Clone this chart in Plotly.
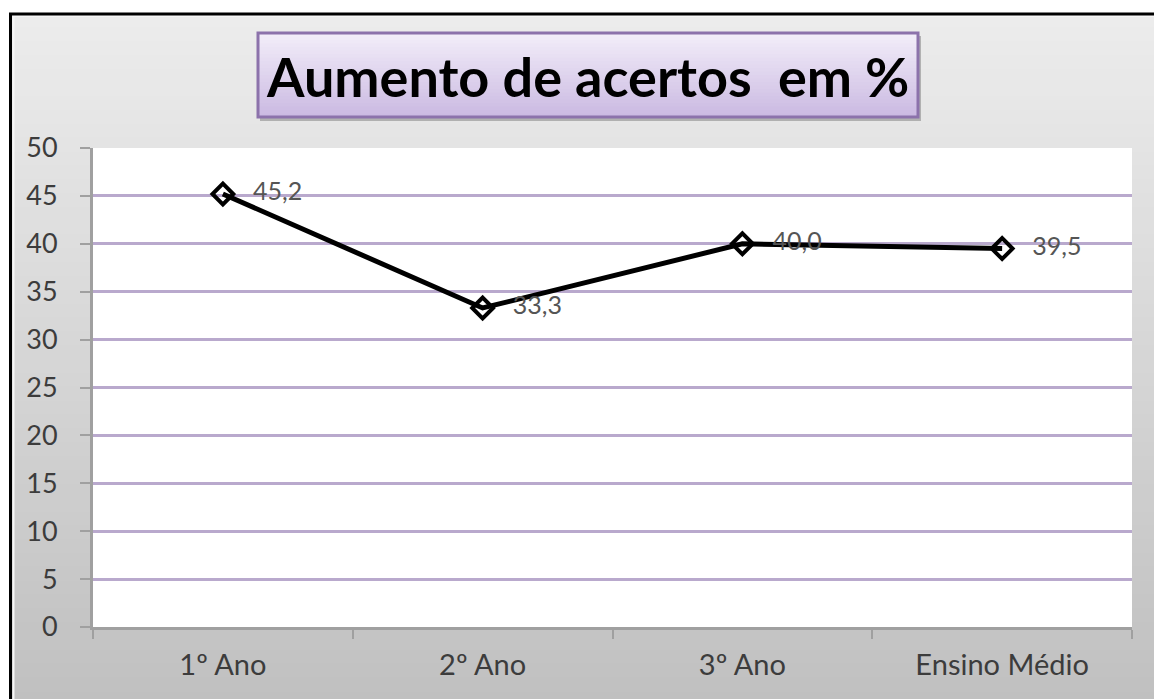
import plotly.graph_objects as go

categories = ["1º Ano", "2º Ano", "3º Ano", "Ensino Médio"]
values = [45.2, 33.3, 40.0, 39.5]
y_ticks = [0, 5, 10, 15, 20, 25, 30, 35, 40, 45, 50]
title_text = "Aumento de acertos  em %"

OFF = 0  # body margin removed via post_script
W, H = 1154 - OFF, 699 - OFF
PX0, PX1, PY0, PY1 = 93, 1132, 148, 627  # plot area in page pixels
L, R, T, B = PX0 - OFF, W - (PX1 - OFF), PY0 - OFF, H - (PY1 - OFF)
PW, PH = W - L - R, H - T - B


def px_x(px):
    return (px - OFF - L) / PW


def px_y(py):
    return (H - B - (py - OFF)) / PH


def lerp(c1, c2, t):
    return "rgb(%d,%d,%d)" % tuple(round(a + (b - a) * t) for a, b in zip(c1, c2))


shapes = []
# background gradient
n = 50
y0, y1 = 13, 705
for i in range(n):
    ya = y0 + (y1 - y0) * i / n
    yb = y0 + (y1 - y0) * (i + 1) / n + 1
    shapes.append(dict(type="rect", xref="paper", yref="paper", layer="below",
                       x0=px_x(10), x1=px_x(1160), y0=px_y(yb), y1=px_y(ya),
                       line=dict(width=0), fillcolor=lerp((236, 236, 236), (192, 192, 192), i / (n - 1))))
# plot area white
shapes.append(dict(type="rect", xref="paper", yref="paper", layer="below",
                   x0=0, x1=1, y0=0, y1=1, line=dict(width=0), fillcolor="white"))
# title box shadow
bx0, bx1, by0, by1 = 258, 918, 33, 117
shapes.append(dict(type="rect", xref="paper", yref="paper", layer="below",
                   x0=px_x(bx0 + 2), x1=px_x(bx1 + 3), y0=px_y(by1 + 4), y1=px_y(by0 + 3),
                   line=dict(width=0), fillcolor="rgba(110,110,110,0.45)"))
m = 24
for i in range(m):
    ya = by0 + (by1 - by0) * i / m
    yb = by0 + (by1 - by0) * (i + 1) / m + 0.6
    shapes.append(dict(type="rect", xref="paper", yref="paper", layer="below",
                       x0=px_x(bx0), x1=px_x(bx1), y0=px_y(yb), y1=px_y(ya),
                       line=dict(width=0), fillcolor=lerp((242, 237, 249), (203, 186, 226), i / (m - 1))))
shapes.append(dict(type="rect", xref="paper", yref="paper", layer="below",
                   x0=px_x(bx0), x1=px_x(bx1), y0=px_y(by1), y1=px_y(by0),
                   line=dict(width=3, color="#8c72ab"), fillcolor="rgba(0,0,0,0)"))
# inner light border + outer black border
shapes.append(dict(type="rect", xref="paper", yref="paper", layer="below",
                   x0=px_x(13.5), x1=px_x(1170), y0=px_y(710), y1=px_y(16),
                   line=dict(width=2, color="#f6f6f6"), fillcolor="rgba(0,0,0,0)"))
shapes.append(dict(type="rect", xref="paper", yref="paper", layer="above",
                   x0=px_x(10.5), x1=px_x(1170), y0=px_y(710), y1=px_y(14),
                   line=dict(width=3, color="black"), fillcolor="rgba(0,0,0,0)"))

fig = go.Figure()
fig.add_trace(go.Scatter(
    x=categories, y=values, mode="lines+markers+text",
    line=dict(color="black", width=5),
    marker=dict(symbol="diamond-open", size=16, color="black", line=dict(width=4, color="black")),
    texttemplate="\u00a0\u00a0\u00a0%{y:.1f}", textposition="middle right",
    textfont=dict(family="Lato", size=25, color="#555555"),
    cliponaxis=False, showlegend=False,
))

fig.add_annotation(text="<b>" + title_text + "</b>", xref="paper", yref="paper",
                   x=px_x((bx0 + bx1) / 2 - 1), y=px_y((by0 + by1) / 2 + 1), showarrow=False,
                   font=dict(family="Lato", size=54, color="black"),
                   xanchor="center", yanchor="middle")

fig.update_layout(
    width=W, height=H,
    margin=dict(l=L, r=R, t=T, b=B),
    paper_bgcolor="white", plot_bgcolor="white",
    separators=",.",
    shapes=shapes,
    xaxis=dict(
        type="category", tickson="boundaries", ticks="outside", ticklen=9,
        tickcolor="#a0a0a0", tickwidth=2, showline=True, linecolor="#a0a0a0", linewidth=3,
        showgrid=False, tickfont=dict(family="Lato", size=29, color="#3c3c3c"),
        range=[-0.5, 3.5], ticklabelstandoff=10,
    ),
    yaxis=dict(
        range=[0, 50], tickvals=y_ticks, ticks="outside", ticklen=10,
        tickcolor="#a0a0a0", tickwidth=2, showline=True, linecolor="#a0a0a0", linewidth=3,
        showgrid=True, gridcolor="#b9a9cd", gridwidth=3, zeroline=False,
        tickfont=dict(family="Lato", size=27, color="#3c3c3c"),
        ticklabelstandoff=17,
    ),
)

fig.write_html(
    "out.html",
    config={"displayModeBar": False},
    post_script="document.body.style.margin='0';document.body.style.overflow='hidden';",
)
